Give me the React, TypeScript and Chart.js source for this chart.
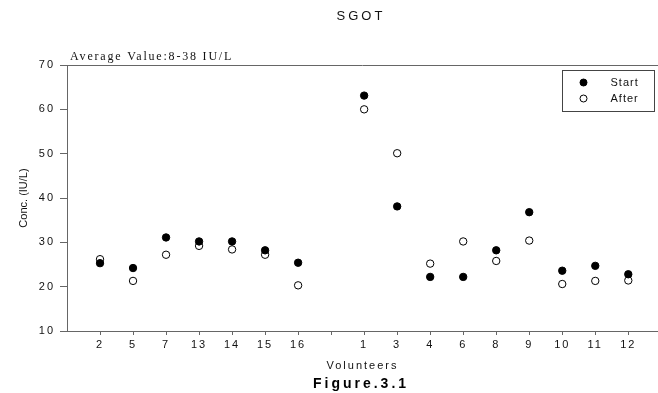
import React, { useEffect, useRef } from "react";
import { Chart, registerables } from "chart.js";

Chart.register(...registerables);

const categories = ["2", "5", "7", "13", "14", "15", "16", "", "1", "3", "4", "6", "8", "9", "10", "11", "12"];
const startValues = [25.3, 24.2, 31.1, 30.2, 30.2, 28.2, 25.4, null, 63.1, 38.1, 22.2, 22.2, 28.2, 36.8, 23.6, 24.7, 22.8];
const afterValues = [26.2, 21.3, 27.2, 29.2, 28.4, 27.2, 20.3, null, 60.0, 50.1, 25.2, 30.2, 25.8, 30.4, 20.6, 21.3, 21.4];
const yTicks = [10, 20, 30, 40, 50, 60, 70];
const chartTitle = "SGOT";
const noteText = "Average Value:8-38 IU/L";
const yTitle = "Conc. (IU/L)";
const xTitle = "Volunteers";
const figureCaption = "Figure.3.1";
const seriesNames = ["Start", "After"];

const toPoints = (vals: (number | null)[]) =>
  vals
    .map((v, i) => (v === null ? null : { x: i + 1, y: v }))
    .filter((p) => p !== null) as { x: number; y: number }[];

const AXIS = "#666";
const TEXT = "#111";
const SANS = "'Liberation Sans', Arial, sans-serif";

const decorPlugin = {
  id: "decor",
  beforeDraw(chart: any) {
    chart.ctx.letterSpacing = "2px";
  },
  afterDraw(chart: any) {
    const ctx = chart.ctx;
    const ca = chart.chartArea;
    ctx.save();
    // top frame line
    ctx.strokeStyle = AXIS;
    ctx.lineWidth = 1;
    ctx.beginPath();
    ctx.moveTo(ca.left, Math.round(ca.top) + 0.5);
    ctx.lineTo(chart.width, Math.round(ca.top) + 0.5);
    ctx.stroke();

    // title
    ctx.fillStyle = TEXT;
    ctx.letterSpacing = "3px";
    ctx.font = "13px " + SANS;
    ctx.textAlign = "center";
    ctx.textBaseline = "middle";
    ctx.fillText(chartTitle, 361, 16);

    // note
    ctx.letterSpacing = "1.8px";
    ctx.font = "12px 'Liberation Serif', 'Times New Roman', serif";
    ctx.textAlign = "left";
    ctx.textBaseline = "alphabetic";
    ctx.fillText(noteText, ca.left + 3, ca.top - 5);

    // y title
    ctx.letterSpacing = "0px";
    ctx.font = "11px " + SANS;
    ctx.save();
    ctx.translate(24, (ca.top + ca.bottom) / 2);
    ctx.rotate(-Math.PI / 2);
    ctx.textAlign = "center";
    ctx.textBaseline = "middle";
    ctx.fillText(yTitle, 0, 0);
    ctx.restore();

    // legend
    const bx = Math.round(ca.right) - 96 + 0.5;
    const by = Math.round(ca.top) + 5 + 0.5;
    ctx.strokeStyle = "#444";
    ctx.strokeRect(bx, by, 92, 41);
    const ds = chart.data.datasets;
    [0, 1].forEach((k) => {
      const cy = by + 12 + k * 16;
      const d = ds[k];
      ctx.beginPath();
      ctx.arc(bx + 21, cy, 3.5, 0, Math.PI * 2);
      ctx.fillStyle = d.pointBackgroundColor;
      ctx.fill();
      ctx.strokeStyle = d.pointBorderColor;
      ctx.lineWidth = 1;
      ctx.stroke();
      ctx.fillStyle = TEXT;
      ctx.letterSpacing = "1px";
      ctx.font = "11px " + SANS;
      ctx.textAlign = "left";
      ctx.textBaseline = "middle";
      ctx.fillText(d.label, bx + 48, cy);
    });

    // caption
    ctx.fillStyle = "#000";
    ctx.letterSpacing = "3px";
    ctx.font = "bold 14px " + SANS;
    ctx.textAlign = "center";
    ctx.textBaseline = "middle";
    ctx.fillText(figureCaption, 361, 384);
    ctx.restore();
  },
};

export default function App() {
  const ref = useRef<HTMLCanvasElement | null>(null);
  useEffect(() => {
    if (!ref.current) return;
    const chart = new Chart(ref.current, {
      type: "scatter",
      data: {
        datasets: [
          {
            label: seriesNames[0],
            data: toPoints(startValues),
            pointBackgroundColor: "#000",
            pointBorderColor: "#000",
            pointBorderWidth: 1,
            pointRadius: 3.7,
            showLine: false,
          } as any,
          {
            label: seriesNames[1],
            data: toPoints(afterValues),
            pointBackgroundColor: "#fff",
            pointBorderColor: "#000",
            pointBorderWidth: 1,
            pointRadius: 3.7,
            showLine: false,
          } as any,
        ],
      },
      options: {
        responsive: false,
        animation: false,
        devicePixelRatio: 1,
        layout: { autoPadding: false, padding: { top: 65, left: 0, right: 0, bottom: 0 } },
        plugins: {
          legend: { display: false },
          title: { display: false },
          tooltip: { enabled: false },
        },
        scales: {
          x: {
            type: "linear",
            min: 0,
            max: 17.9,
            afterBuildTicks: (scale: any) => {
              scale.ticks = categories.map((_, i) => ({ value: i + 1 }));
            },
            afterFit: (scale: any) => {
              scale.height = 62;
              scale.paddingLeft = 0;
              scale.paddingRight = 0;
            },
            ticks: {
              autoSkip: false,
              maxRotation: 0,
              padding: 3,
              color: TEXT,
              font: { size: 11, family: SANS },
              callback: (v: any) => categories[Math.round(v) - 1] ?? "",
            },
            grid: { drawOnChartArea: false, drawTicks: true, tickLength: 4, color: AXIS },
            border: { display: true, color: AXIS, width: 1 },
            title: {
              display: true,
              text: xTitle,
              color: TEXT,
              font: { size: 11, family: SANS },
              padding: { top: 0, bottom: 20 },
            },
          },
          y: {
            type: "linear",
            min: yTicks[0],
            max: yTicks[yTicks.length - 1],
            afterBuildTicks: (scale: any) => {
              scale.ticks = yTicks.map((v) => ({ value: v }));
            },
            afterFit: (scale: any) => {
              scale.width = 67;
              scale.paddingTop = 0;
              scale.paddingBottom = 0;
            },
            ticks: {
              padding: 5,
              color: TEXT,
              font: { size: 11, family: SANS },
            },
            grid: { drawOnChartArea: false, drawTicks: true, tickLength: 7, color: AXIS },
            border: { display: true, color: AXIS, width: 1 },
          },
        },
      },
      plugins: [decorPlugin],
    });
    return () => chart.destroy();
  }, []);
  return (
    <div style={{ position: "absolute", left: 0, top: 0, width: 658, height: 393, background: "#fff" }}>
      <canvas ref={ref} width={658} height={393} style={{ display: "block" }} />
    </div>
  );
}
